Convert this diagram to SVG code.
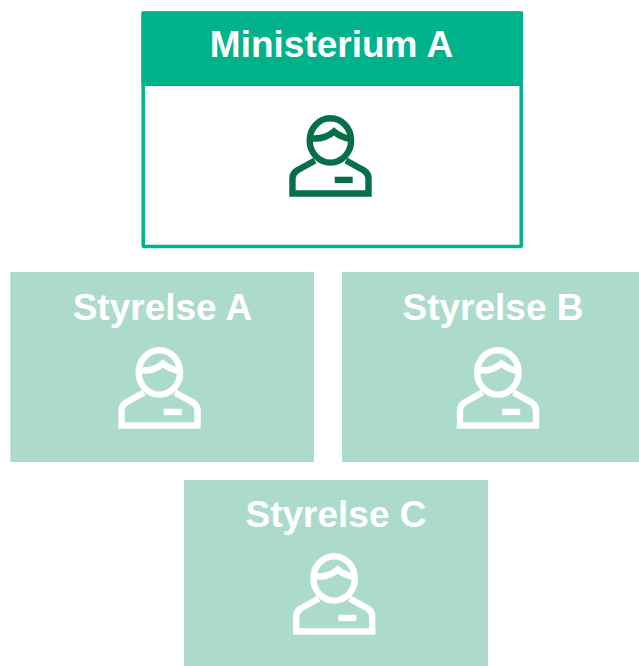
<svg xmlns="http://www.w3.org/2000/svg" width="639" height="666" viewBox="0 0 639 666">
<style>
text{font-family:"Liberation Sans",Arial,sans-serif;font-weight:700;font-size:37px;fill:#fff;text-anchor:middle}
.tile{fill:#addbcb}
.ico{fill:none;stroke:#fff;stroke-width:6.4}
</style>
<defs>
<g id="person">
<ellipse cx="330.400" cy="140.400" rx="20.700" ry="22.200"/>
<path d="M312 138.500C321 139 329 136 334 131.500C338 135 343 137.500 349.500 139"/>
<path d="M315 160.500L297 170.500C294 172.500 292.500 175 292.500 178V193.500H368.500V178C368.500 175 367 172.500 364 170.500L346 160.500"/>
<path d="M334.700 179.900H352.700"/>
</g>
</defs>
<g id="connectors"/>
<g id="ministerium-a">
<rect x="143.200" y="13" width="378" height="233.500" fill="#fff" stroke="#00b28a" stroke-width="3.500" rx="1"/>
<rect x="141.500" y="11.500" width="381.500" height="74.500" fill="#00b28a"/>
<text x="331.500" y="57">Ministerium A</text>
<use href="#person" class="ico" style="stroke:#066f47"/>
</g>
<g id="styrelse-a">
<rect class="tile" x="10.300" y="272" width="303.700" height="190"/>
<text x="162.500" y="319.500">Styrelse A</text>
<use href="#person" class="ico" x="-171" y="232"/>
</g>
<g id="styrelse-b">
<rect class="tile" x="342" y="272" width="297" height="190"/>
<text x="493" y="319.500">Styrelse B</text>
<use href="#person" class="ico" x="167.500" y="232"/>
</g>
<g id="styrelse-c">
<rect class="tile" x="184" y="480" width="304" height="186"/>
<text x="336" y="526.500">Styrelse C</text>
<use href="#person" class="ico" x="3.700" y="438"/>
</g>
</svg>
